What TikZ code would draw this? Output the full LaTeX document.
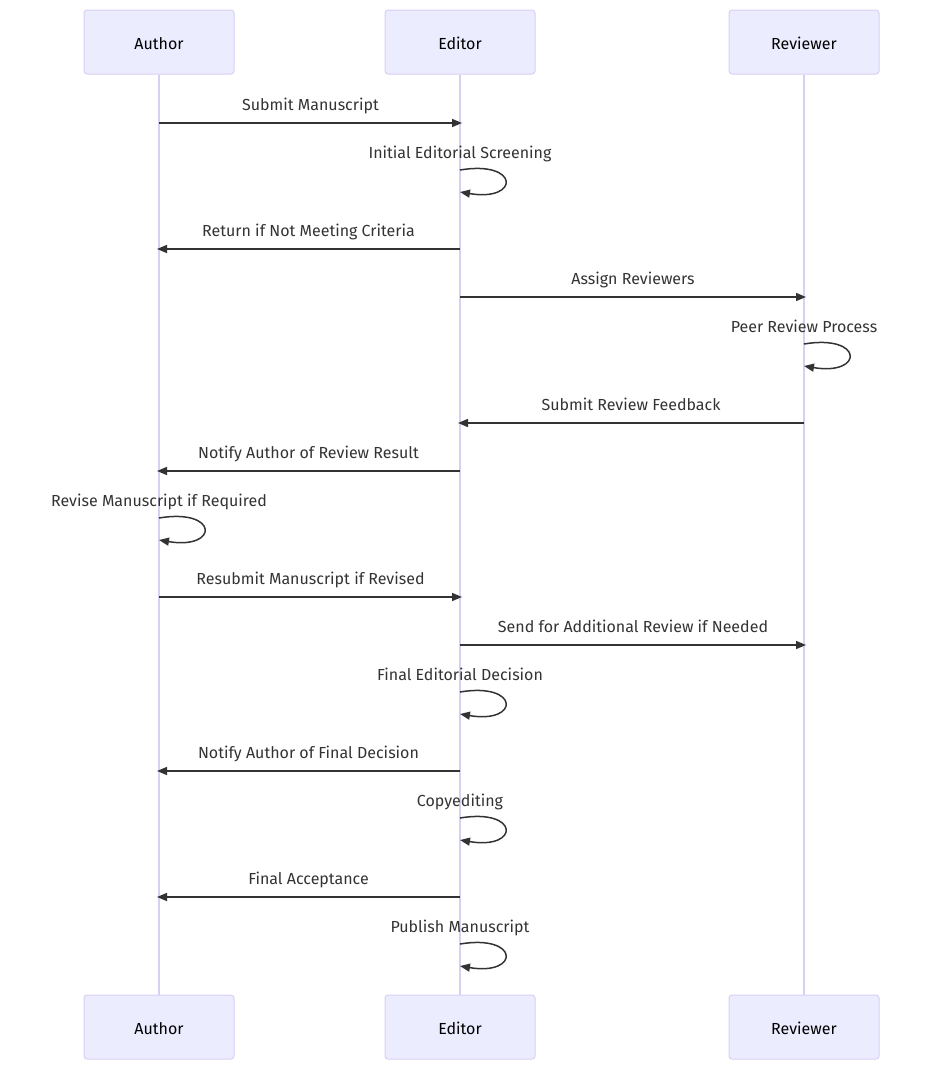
\documentclass[tikz,border=0pt]{standalone}
\usepackage{fontspec}
\setmainfont{Fira Sans}
\usetikzlibrary{arrows.meta}
\definecolor{actfill}{HTML}{ECECFF}
\definecolor{actline}{HTML}{D9CFF3}
\definecolor{txt}{HTML}{333333}
\begin{document}
\begin{tikzpicture}[x=1pt,y=-1pt,
  actor/.style={draw=actline,fill=actfill,line width=1pt,rounded corners=3pt,minimum width=150pt,minimum height=64pt,inner sep=0pt,font=\fontsize{16}{19}\selectfont,text=black,text height=15pt,text depth=1pt},
  life/.style={draw=actline,line width=2pt},
  msg/.style={draw=txt,line width=1.5pt,-{Triangle[length=10pt,width=8pt]}},
  lbl/.style={font=\fontsize{16}{19}\selectfont,text=txt,inner sep=0pt,text height=11.5pt,text depth=3.5pt}]
\useasboundingbox (0,0) rectangle (930,1071);
% actors
\node[actor] (at) at (159,42) {Author};
\node[actor] (et) at (460,42) {Editor};
\node[actor] (rt) at (804,42) {Reviewer};
\node[actor] (ab) at (159,1027) {Author};
\node[actor] (eb) at (460,1027) {Editor};
\node[actor] (rb) at (804,1027) {Reviewer};
\draw[life] (at.south) -- (ab.north);
\draw[life] (et.south) -- (eb.north);
\draw[life] (rt.south) -- (rb.north);
\newcommand{\msgline}[5]{% from x, to x, y, label, name
  \coordinate (#5s) at (#1,#3);
  \coordinate (#5e) at (#2,#3);
  \draw[msg] (#5s) -- (#5e);
  \node[lbl] (#5l) at ({(#1+#2)/2},#3-17) {#4};
}
\newcommand{\selfloop}[4]{% x, y, label, name
  \coordinate (#4s) at (#1,#2);
  \coordinate (#4e) at (#1,#2+22);
  \draw[msg] (#4s) .. controls (#1+60,#2-10) and (#1+60,#2+32) .. (#4e);
  \node[lbl] (#4l) at (#1,#2-16) {#3};
}
\msgline{159}{462}{123}{Submit Manuscript}{m1}
\selfloop{460}{170}{Initial Editorial Screening}{m2}
\msgline{460}{157}{249}{Return if Not Meeting Criteria}{m3}
\msgline{460}{806}{297}{Assign Reviewers}{m4}
\selfloop{804}{344}{Peer Review Process}{m5}
\msgline{804}{458}{423}{Submit Review Feedback}{m6}
\msgline{460}{157}{471}{Notify Author of Review Result}{m7}
\selfloop{159}{518}{Revise Manuscript if Required}{m8}
\msgline{159}{462}{597}{Resubmit Manuscript if Revised}{m9}
\msgline{460}{806}{645}{Send for Additional Review if Needed}{m10}
\selfloop{460}{692}{Final Editorial Decision}{m11}
\msgline{460}{157}{771}{Notify Author of Final Decision}{m12}
\selfloop{460}{818}{Copyediting}{m13}
\msgline{460}{157}{897}{Final Acceptance}{m14}
\selfloop{460}{944}{Publish Manuscript}{m15}
\end{tikzpicture}
\end{document}
